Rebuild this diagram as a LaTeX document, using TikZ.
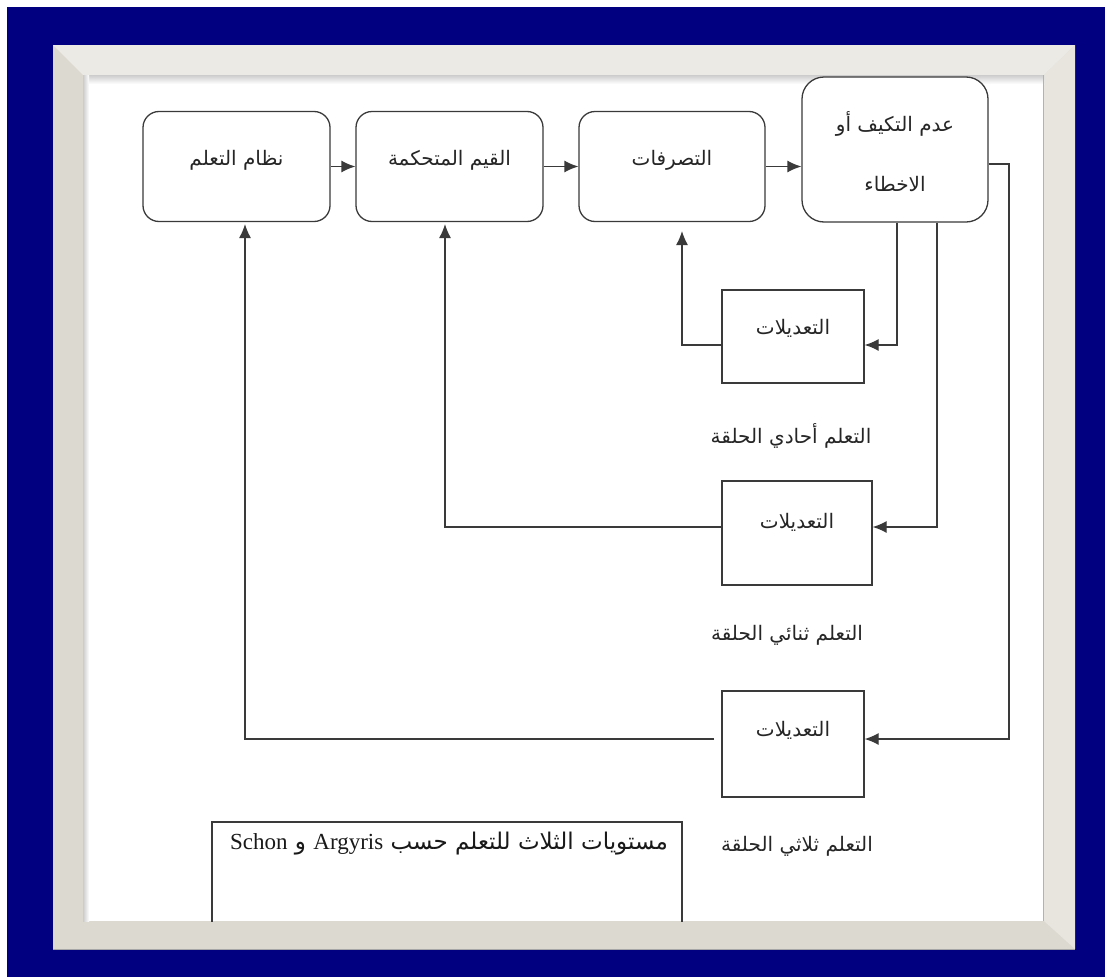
\documentclass[tikz,border=0pt]{standalone}
\usepackage{fontspec}
\setmainfont{Liberation Serif}
\newfontfamily\arabicfont[Script=Arabic]{DejaVu Sans}
\TeXXeTstate=1
\usetikzlibrary{arrows.meta,calc}

\definecolor{navybg}{HTML}{000080}
\definecolor{frametop}{HTML}{ECEAE4}
\definecolor{frameside}{HTML}{DCD9D1}
\definecolor{ink}{HTML}{3A3A3A}

\tikzset{
  flowbox/.style={draw=ink, line width=1.3pt, rounded corners=16pt, fill=white, inner sep=0pt},
  modbox/.style={draw=ink, line width=1.3pt, fill=white, inner sep=0pt},
  conn/.style={draw=ink, line width=1.3pt},
  arr/.style={conn, -{Latex[length=14pt,width=12pt]}},
  artext/.style={font=\arabicfont\fontsize{20}{32}\selectfont, text=black!85, inner sep=0pt, align=center},
}

\begin{document}
\begin{tikzpicture}[x=1pt,y=-1pt]
\useasboundingbox (0,0) rectangle (1105,977);
% backdrop and frame
\fill[white] (0,0) rectangle (1105,977);
\fill[navybg] (7,7) rectangle (1105,977);
\fill[frameside] (53,45) rectangle (1075,949);
\fill[frametop] (53,45) -- (1075,45) -- (1044,75) -- (83,75) -- cycle;
\fill[frametop!70!frameside] (1075,45) -- (1075,949) -- (1044,921) -- (1044,75) -- cycle;
\draw[gray!70, line width=0.8pt] (53,949) -- (1075,949);
\fill[white] (83,75) rectangle (1044,921);
\shade[top color=gray!40, bottom color=white] (83,75) rectangle (1044,84);
\shade[left color=gray!40, right color=white] (83,75) rectangle (89,921);
\draw[gray!60, line width=0.8pt] (1043,75) -- (1043,921);

\begin{scope}
\clip (83,75) rectangle (1044,921);

% main chain
\node[flowbox, minimum width=187pt, minimum height=110pt] (b1) at (236.5,166.5) {};
\node[flowbox, minimum width=187pt, minimum height=110pt] (b2) at (449.5,166.5) {};
\node[flowbox, minimum width=186pt, minimum height=110pt] (b3) at (672,166.5) {};
\node[flowbox, rounded corners=22pt, minimum width=186pt, minimum height=145pt] (b4) at (895,149.5) {};

\node[artext] (t1) at (236.5,160) {\beginR نظام التعلم\endR};
\node[artext] (t2) at (449.5,160) {\beginR القيم المتحكمة\endR};
\node[artext] (t3) at (672,160) {\beginR التصرفات\endR};
\node[artext, font=\arabicfont\fontsize{20}{60}\selectfont] (t4) at (895,152) {\beginR عدم التكيف أو\endR\\\beginR الاخطاء\endR};

% adjustment boxes
\node[modbox, minimum width=142pt, minimum height=93pt] (m1) at (793,336.5) {};
\node[modbox, minimum width=150pt, minimum height=104pt] (m2) at (797,533) {};
\node[modbox, minimum width=142pt, minimum height=106pt] (m3) at (793,744) {};

\node[artext] (s1) at (793,328) {\beginR التعديلات\endR};
\node[artext] (s2) at (797,522) {\beginR التعديلات\endR};
\node[artext] (s3) at (793,730) {\beginR التعديلات\endR};

% loop labels
\node[artext] (l1) at (791,436) {\beginR التعلم أحادي الحلقة\endR};
\node[artext] (l2) at (787,635) {\beginR التعلم ثنائي الحلقة\endR};
\node[artext] (l3) at (797,846) {\beginR التعلم ثلاثي الحلقة\endR};

% caption box, open at the bottom where the frame cuts it
\node[modbox, fill=none, minimum width=470pt, minimum height=130pt] (cap) at (447,887) {};
\node[font=\fontsize{23}{27}\selectfont, inner sep=0pt, text=black!90] (ct) at (449,844)
  {\arabicfont\beginR مستويات الثلاث للتعلم حسب \beginL{\rmfamily Argyris}\endL{} و \beginL{\rmfamily Schon}\endL\endR};

% turning points of the loops
\coordinate (a1) at (897,345);
\coordinate (a2) at (937,527);
\coordinate (a3) at (1009,164);
\coordinate (e3) at (1009,739);
\coordinate (k1) at (682,345);
\coordinate (k2) at (445,527);
\coordinate (k3) at (245,739);
\coordinate (g3) at (714,739);
\coordinate (u1) at (245,224);
\coordinate (u2) at (445,224);
\coordinate (u3) at (682,231);

% forward arrows
\draw[arr] (b1.east) -- (b2.west);
\draw[arr] (b2.east) -- (b3.west);
\draw[arr] (b3.east) -- (b3.east -| b4.west);

% feeds from the error box
\draw[arr] (b4.south -| a1) -- (a1) -- (a1 -| m1.east);
\draw[arr] (b4.south -| a2) -- (a2) -- (a2 -| m2.east);
\draw[arr] (b4.east |- a3) -- (a3) -- (e3) -- (e3 -| m3.east);

% returns
\draw[arr] (m1.west |- k1) -- (k1) -- (u3);
\draw[arr] (m2.west |- k2) -- (k2) -- (u2);
\draw[arr] (g3) -- (k3) -- (u1);
\end{scope}
\end{tikzpicture}
\end{document}
